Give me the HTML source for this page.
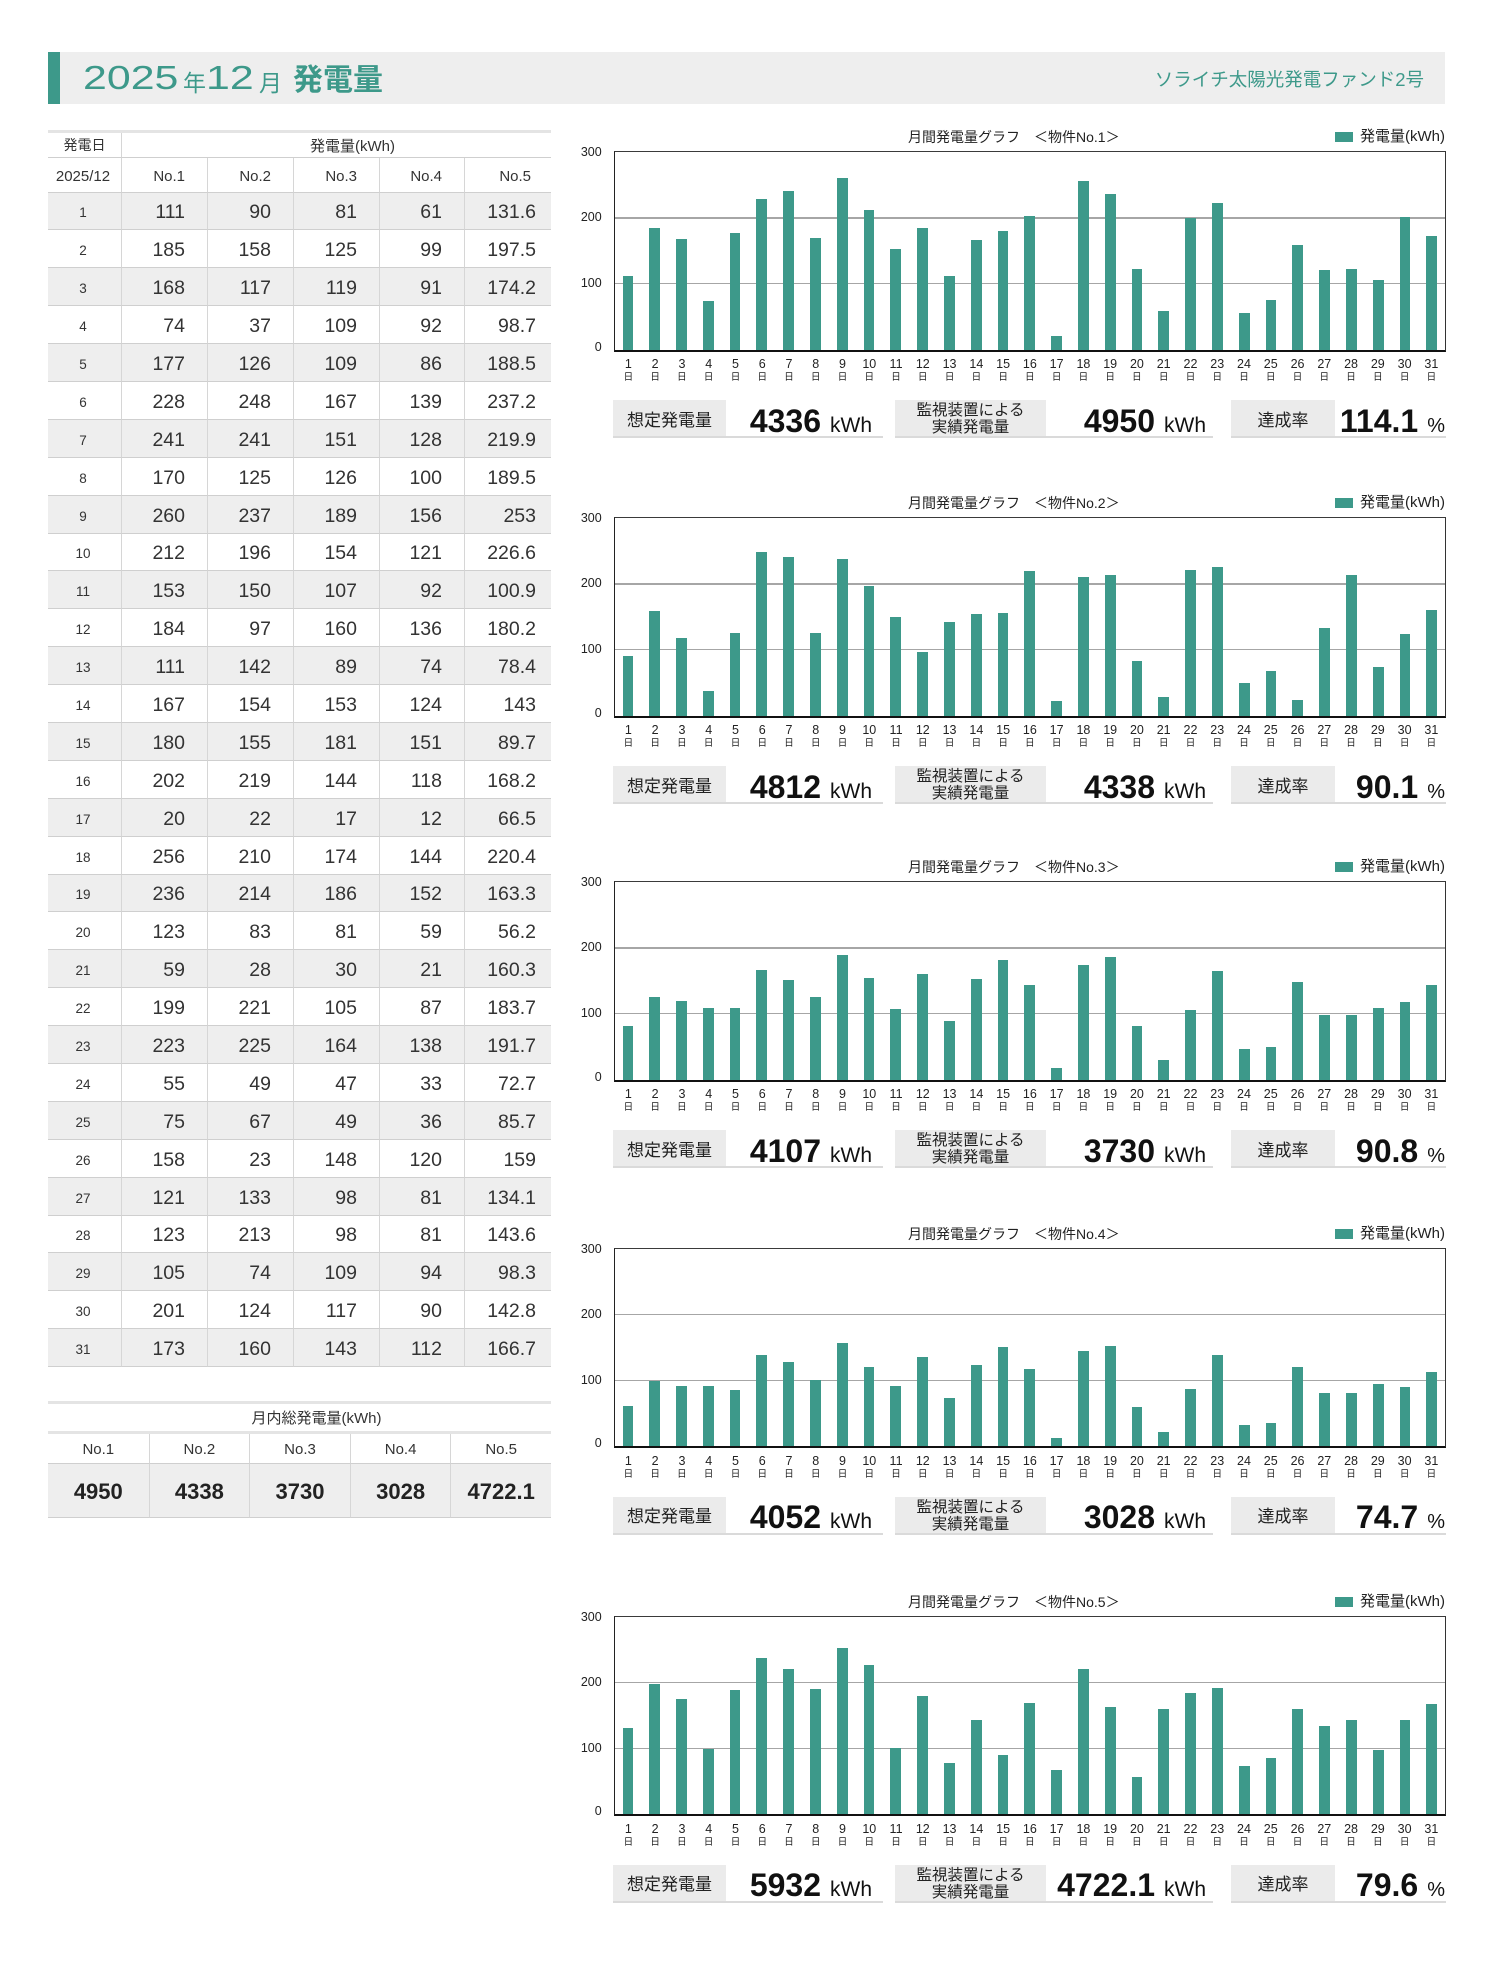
<!DOCTYPE html>
<html><head><meta charset="utf-8">
<style>
*{margin:0;padding:0;box-sizing:border-box}
body{width:1500px;height:1986px;background:#fff;position:relative;overflow:hidden;font-family:"Liberation Sans","Noto Sans CJK JP",sans-serif;color:#222}
.a{position:absolute;white-space:nowrap}
.gr{color:#3d998a}
.tb{left:48px;top:52px;width:1397px;height:52px;background:#eeeeee}
.acc{left:48px;top:52px;width:12px;height:52px;background:#3d998a}
.dg{font-size:33.5px;line-height:33.5px;transform:scaleX(1.28);transform-origin:0 0}
.kj{font-size:23px;line-height:23px}
/* table */
.tbl{position:absolute;left:48px;top:130px;width:503px;display:grid;grid-template-columns:73px 86px 86px 86px 85px 87px;grid-template-rows:25px 34.5px repeat(31,37.9px);border-top:3px solid #e4e4e4}
.tbl>div.hc,.tbl span{display:flex;align-items:center;border-bottom:1.5px solid #cfcfcf;color:#333;white-space:nowrap}
.tbl>.r{display:contents}
.h2{font-size:15px;justify-content:flex-end;padding:3px 22px 0 0;border-left:1px solid #d6d6d6}
.r span{justify-content:flex-end;padding:4px 22px 0 0;font-size:19.5px;border-left:1px solid #d6d6d6}
.r span:first-child{justify-content:center;padding:4px 3px 0 0;font-size:13.5px;border-left:0}
.r span:last-child{padding-right:15px}
.g span{background:#eeeeee}
.sm{position:absolute;left:48px;top:1400.5px;width:503px;display:grid;grid-template-columns:repeat(5,1fr);grid-template-rows:30px 30px 54px;border-top:3px solid #e4e4e4}
.sm div{display:flex;align-items:center;justify-content:center;color:#333;border-bottom:1.5px solid #cfcfcf}
.sm .sh{grid-column:span 5;font-size:15px;padding-left:34px;border-bottom:3px solid #e4e4e4}
.sm .sn{font-size:15px;border-left:1px solid #d6d6d6;padding-top:2px}
.sm .sv{font-size:22px;font-weight:bold;background:#eeeeee;border-left:1px solid #d6d6d6;padding-top:3px;color:#222}
.sm .f{border-left:0}
/* charts */
.ch{position:absolute;left:0;width:1500px;height:0}
.ct{position:absolute;left:908px;top:-22.5px;font-size:14px;line-height:16px;white-space:nowrap}
.lgb{position:absolute;left:1335px;top:-20px;width:18px;height:10px;background:#3d998a}
.lgt{position:absolute;left:1360px;top:-22.5px;font-size:15px;line-height:16px;white-space:nowrap}
.yl{position:absolute;left:561.7px;width:40px;text-align:right;font-size:12.5px;line-height:14px}
.pl{position:absolute;left:613.5px;top:-0.8px;width:832.5px;height:200.6px;border-top:1.3px solid #3a3a3a;border-left:1.5px solid #222;border-right:1.5px solid #333;border-bottom:2px solid #111}
.gl{position:absolute;left:0;right:0;height:1.5px;background:#a6a6a6}
.bars{position:absolute;left:0;right:0;top:0;bottom:0;display:flex;align-items:flex-end}
.bars i{flex:1 1 0;margin:0 8px;height:calc(var(--v) * 0.6593px);background:#3d998a;display:block}
.xl{position:absolute;left:615px;width:829.5px;top:205.5px;display:flex}
.xl i{flex:1 1 0;display:block;text-align:center;font-style:normal;font-size:12.5px;line-height:14px}
.xl b{display:block;font-weight:normal;font-size:9.5px;line-height:12px;margin-top:0.7px}
.lb{position:absolute;top:248.4px;height:36.3px;background:#ebebeb;text-align:center;font-size:17px;line-height:36.3px;padding-top:2.5px;white-space:nowrap}
.lb2{font-size:15.5px;line-height:17.5px;padding-top:1.8px}
.vl{position:absolute;top:248.4px;height:36.3px;text-align:right;font-weight:bold;font-size:32px;line-height:36.3px;padding-top:2.5px;white-space:nowrap;color:#111}
.vl small{font-size:21px;font-weight:normal;margin-left:9px}
.vl em{font-style:normal;font-size:20px;font-weight:normal;margin-left:9px}
.ul{position:absolute;top:284.7px;height:2px;background:#dadada}
</style></head><body>

<div class="a tb"></div>
<div class="a acc"></div>
<div class="a gr dg" style="left:82.7px;top:62.3px">2025</div>
<div class="a gr kj" style="left:183px;top:71.5px">年</div>
<div class="a gr dg" style="left:206px;top:62.3px">12</div>
<div class="a gr kj" style="left:259px;top:71.5px">月</div>
<div class="a gr" style="left:293px;top:66px;font-size:30px;line-height:30px;font-weight:bold">発電量</div>
<div class="a gr" style="left:1024px;width:400px;text-align:right;top:69.8px;font-size:18.5px;line-height:20px">ソライチ太陽光発電ファンド2号</div>

<div class="tbl">
<div class="hc" style="justify-content:center;font-size:14px">発電日</div>
<div class="hc" style="grid-column:span 5;border-left:1px solid #d6d6d6;padding-left:188px;font-size:15px">発電量(kWh)</div>
<div class="hc h2" style="justify-content:center;padding:3px 3px 0 0;border-left:0">2025/12</div>
<div class="hc h2">No.1</div><div class="hc h2">No.2</div><div class="hc h2">No.3</div><div class="hc h2">No.4</div><div class="hc h2" style="padding-right:20px">No.5</div>
<div class="r g"><span>1</span><span>111</span><span>90</span><span>81</span><span>61</span><span>131.6</span></div>
<div class="r"><span>2</span><span>185</span><span>158</span><span>125</span><span>99</span><span>197.5</span></div>
<div class="r g"><span>3</span><span>168</span><span>117</span><span>119</span><span>91</span><span>174.2</span></div>
<div class="r"><span>4</span><span>74</span><span>37</span><span>109</span><span>92</span><span>98.7</span></div>
<div class="r g"><span>5</span><span>177</span><span>126</span><span>109</span><span>86</span><span>188.5</span></div>
<div class="r"><span>6</span><span>228</span><span>248</span><span>167</span><span>139</span><span>237.2</span></div>
<div class="r g"><span>7</span><span>241</span><span>241</span><span>151</span><span>128</span><span>219.9</span></div>
<div class="r"><span>8</span><span>170</span><span>125</span><span>126</span><span>100</span><span>189.5</span></div>
<div class="r g"><span>9</span><span>260</span><span>237</span><span>189</span><span>156</span><span>253</span></div>
<div class="r"><span>10</span><span>212</span><span>196</span><span>154</span><span>121</span><span>226.6</span></div>
<div class="r g"><span>11</span><span>153</span><span>150</span><span>107</span><span>92</span><span>100.9</span></div>
<div class="r"><span>12</span><span>184</span><span>97</span><span>160</span><span>136</span><span>180.2</span></div>
<div class="r g"><span>13</span><span>111</span><span>142</span><span>89</span><span>74</span><span>78.4</span></div>
<div class="r"><span>14</span><span>167</span><span>154</span><span>153</span><span>124</span><span>143</span></div>
<div class="r g"><span>15</span><span>180</span><span>155</span><span>181</span><span>151</span><span>89.7</span></div>
<div class="r"><span>16</span><span>202</span><span>219</span><span>144</span><span>118</span><span>168.2</span></div>
<div class="r g"><span>17</span><span>20</span><span>22</span><span>17</span><span>12</span><span>66.5</span></div>
<div class="r"><span>18</span><span>256</span><span>210</span><span>174</span><span>144</span><span>220.4</span></div>
<div class="r g"><span>19</span><span>236</span><span>214</span><span>186</span><span>152</span><span>163.3</span></div>
<div class="r"><span>20</span><span>123</span><span>83</span><span>81</span><span>59</span><span>56.2</span></div>
<div class="r g"><span>21</span><span>59</span><span>28</span><span>30</span><span>21</span><span>160.3</span></div>
<div class="r"><span>22</span><span>199</span><span>221</span><span>105</span><span>87</span><span>183.7</span></div>
<div class="r g"><span>23</span><span>223</span><span>225</span><span>164</span><span>138</span><span>191.7</span></div>
<div class="r"><span>24</span><span>55</span><span>49</span><span>47</span><span>33</span><span>72.7</span></div>
<div class="r g"><span>25</span><span>75</span><span>67</span><span>49</span><span>36</span><span>85.7</span></div>
<div class="r"><span>26</span><span>158</span><span>23</span><span>148</span><span>120</span><span>159</span></div>
<div class="r g"><span>27</span><span>121</span><span>133</span><span>98</span><span>81</span><span>134.1</span></div>
<div class="r"><span>28</span><span>123</span><span>213</span><span>98</span><span>81</span><span>143.6</span></div>
<div class="r g"><span>29</span><span>105</span><span>74</span><span>109</span><span>94</span><span>98.3</span></div>
<div class="r"><span>30</span><span>201</span><span>124</span><span>117</span><span>90</span><span>142.8</span></div>
<div class="r g"><span>31</span><span>173</span><span>160</span><span>143</span><span>112</span><span>166.7</span></div>
</div>

<div class="sm">
<div class="sh">月内総発電量(kWh)</div>
<div class="sn f">No.1</div><div class="sn">No.2</div><div class="sn">No.3</div><div class="sn">No.4</div><div class="sn">No.5</div>
<div class="sv f">4950</div><div class="sv">4338</div><div class="sv">3730</div><div class="sv">3028</div><div class="sv">4722.1</div>
</div>

<!-- Chart 1 -->
<div class="ch" style="top:151.8px">
<div class="ct">月間発電量グラフ　＜物件No.1＞</div>
<div class="lgb"></div><div class="lgt">発電量(kWh)</div>
<div class="yl" style="top:-6.5px">300</div><div class="yl" style="top:58.3px">200</div><div class="yl" style="top:124.5px">100</div><div class="yl" style="top:187.8px">0</div>
<div class="pl"><div class="gl" style="bottom:131.1px"></div><div class="gl" style="bottom:65.2px"></div>
<div class="bars"><i style="--v:111"></i><i style="--v:185"></i><i style="--v:168"></i><i style="--v:74"></i><i style="--v:177"></i><i style="--v:228"></i><i style="--v:241"></i><i style="--v:170"></i><i style="--v:260"></i><i style="--v:212"></i><i style="--v:153"></i><i style="--v:184"></i><i style="--v:111"></i><i style="--v:167"></i><i style="--v:180"></i><i style="--v:202"></i><i style="--v:20"></i><i style="--v:256"></i><i style="--v:236"></i><i style="--v:123"></i><i style="--v:59"></i><i style="--v:199"></i><i style="--v:223"></i><i style="--v:55"></i><i style="--v:75"></i><i style="--v:158"></i><i style="--v:121"></i><i style="--v:123"></i><i style="--v:105"></i><i style="--v:201"></i><i style="--v:173"></i></div></div>
<div class="xl"><i>1<b>日</b></i><i>2<b>日</b></i><i>3<b>日</b></i><i>4<b>日</b></i><i>5<b>日</b></i><i>6<b>日</b></i><i>7<b>日</b></i><i>8<b>日</b></i><i>9<b>日</b></i><i>10<b>日</b></i><i>11<b>日</b></i><i>12<b>日</b></i><i>13<b>日</b></i><i>14<b>日</b></i><i>15<b>日</b></i><i>16<b>日</b></i><i>17<b>日</b></i><i>18<b>日</b></i><i>19<b>日</b></i><i>20<b>日</b></i><i>21<b>日</b></i><i>22<b>日</b></i><i>23<b>日</b></i><i>24<b>日</b></i><i>25<b>日</b></i><i>26<b>日</b></i><i>27<b>日</b></i><i>28<b>日</b></i><i>29<b>日</b></i><i>30<b>日</b></i><i>31<b>日</b></i></div>
<div class="lb" style="left:613px;width:113px">想定発電量</div>
<div class="vl" style="left:726px;width:157px;padding-right:11px">4336<small>kWh</small></div>
<div class="ul" style="left:613px;width:270px"></div>
<div class="lb lb2" style="left:895px;width:151px">監視装置による<br>実績発電量</div>
<div class="vl" style="left:1046px;width:167px;padding-right:7px">4950<small>kWh</small></div>
<div class="ul" style="left:895px;width:318px"></div>
<div class="lb" style="left:1231px;width:104px">達成率</div>
<div class="vl" style="left:1335px;width:111px;padding-right:1px">114.1<em>%</em></div>
<div class="ul" style="left:1231px;width:215px"></div>
</div>

<!-- Chart 2 -->
<div class="ch" style="top:517.8px">
<div class="ct">月間発電量グラフ　＜物件No.2＞</div>
<div class="lgb"></div><div class="lgt">発電量(kWh)</div>
<div class="yl" style="top:-6.5px">300</div><div class="yl" style="top:58.3px">200</div><div class="yl" style="top:124.5px">100</div><div class="yl" style="top:187.8px">0</div>
<div class="pl"><div class="gl" style="bottom:131.1px"></div><div class="gl" style="bottom:65.2px"></div>
<div class="bars"><i style="--v:90"></i><i style="--v:158"></i><i style="--v:117"></i><i style="--v:37"></i><i style="--v:126"></i><i style="--v:248"></i><i style="--v:241"></i><i style="--v:125"></i><i style="--v:237"></i><i style="--v:196"></i><i style="--v:150"></i><i style="--v:97"></i><i style="--v:142"></i><i style="--v:154"></i><i style="--v:155"></i><i style="--v:219"></i><i style="--v:22"></i><i style="--v:210"></i><i style="--v:214"></i><i style="--v:83"></i><i style="--v:28"></i><i style="--v:221"></i><i style="--v:225"></i><i style="--v:49"></i><i style="--v:67"></i><i style="--v:23"></i><i style="--v:133"></i><i style="--v:213"></i><i style="--v:74"></i><i style="--v:124"></i><i style="--v:160"></i></div></div>
<div class="xl"><i>1<b>日</b></i><i>2<b>日</b></i><i>3<b>日</b></i><i>4<b>日</b></i><i>5<b>日</b></i><i>6<b>日</b></i><i>7<b>日</b></i><i>8<b>日</b></i><i>9<b>日</b></i><i>10<b>日</b></i><i>11<b>日</b></i><i>12<b>日</b></i><i>13<b>日</b></i><i>14<b>日</b></i><i>15<b>日</b></i><i>16<b>日</b></i><i>17<b>日</b></i><i>18<b>日</b></i><i>19<b>日</b></i><i>20<b>日</b></i><i>21<b>日</b></i><i>22<b>日</b></i><i>23<b>日</b></i><i>24<b>日</b></i><i>25<b>日</b></i><i>26<b>日</b></i><i>27<b>日</b></i><i>28<b>日</b></i><i>29<b>日</b></i><i>30<b>日</b></i><i>31<b>日</b></i></div>
<div class="lb" style="left:613px;width:113px">想定発電量</div>
<div class="vl" style="left:726px;width:157px;padding-right:11px">4812<small>kWh</small></div>
<div class="ul" style="left:613px;width:270px"></div>
<div class="lb lb2" style="left:895px;width:151px">監視装置による<br>実績発電量</div>
<div class="vl" style="left:1046px;width:167px;padding-right:7px">4338<small>kWh</small></div>
<div class="ul" style="left:895px;width:318px"></div>
<div class="lb" style="left:1231px;width:104px">達成率</div>
<div class="vl" style="left:1335px;width:111px;padding-right:1px">90.1<em>%</em></div>
<div class="ul" style="left:1231px;width:215px"></div>
</div>

<!-- Chart 3 -->
<div class="ch" style="top:881.8px">
<div class="ct">月間発電量グラフ　＜物件No.3＞</div>
<div class="lgb"></div><div class="lgt">発電量(kWh)</div>
<div class="yl" style="top:-6.5px">300</div><div class="yl" style="top:58.3px">200</div><div class="yl" style="top:124.5px">100</div><div class="yl" style="top:187.8px">0</div>
<div class="pl"><div class="gl" style="bottom:131.1px"></div><div class="gl" style="bottom:65.2px"></div>
<div class="bars"><i style="--v:81"></i><i style="--v:125"></i><i style="--v:119"></i><i style="--v:109"></i><i style="--v:109"></i><i style="--v:167"></i><i style="--v:151"></i><i style="--v:126"></i><i style="--v:189"></i><i style="--v:154"></i><i style="--v:107"></i><i style="--v:160"></i><i style="--v:89"></i><i style="--v:153"></i><i style="--v:181"></i><i style="--v:144"></i><i style="--v:17"></i><i style="--v:174"></i><i style="--v:186"></i><i style="--v:81"></i><i style="--v:30"></i><i style="--v:105"></i><i style="--v:164"></i><i style="--v:47"></i><i style="--v:49"></i><i style="--v:148"></i><i style="--v:98"></i><i style="--v:98"></i><i style="--v:109"></i><i style="--v:117"></i><i style="--v:143"></i></div></div>
<div class="xl"><i>1<b>日</b></i><i>2<b>日</b></i><i>3<b>日</b></i><i>4<b>日</b></i><i>5<b>日</b></i><i>6<b>日</b></i><i>7<b>日</b></i><i>8<b>日</b></i><i>9<b>日</b></i><i>10<b>日</b></i><i>11<b>日</b></i><i>12<b>日</b></i><i>13<b>日</b></i><i>14<b>日</b></i><i>15<b>日</b></i><i>16<b>日</b></i><i>17<b>日</b></i><i>18<b>日</b></i><i>19<b>日</b></i><i>20<b>日</b></i><i>21<b>日</b></i><i>22<b>日</b></i><i>23<b>日</b></i><i>24<b>日</b></i><i>25<b>日</b></i><i>26<b>日</b></i><i>27<b>日</b></i><i>28<b>日</b></i><i>29<b>日</b></i><i>30<b>日</b></i><i>31<b>日</b></i></div>
<div class="lb" style="left:613px;width:113px">想定発電量</div>
<div class="vl" style="left:726px;width:157px;padding-right:11px">4107<small>kWh</small></div>
<div class="ul" style="left:613px;width:270px"></div>
<div class="lb lb2" style="left:895px;width:151px">監視装置による<br>実績発電量</div>
<div class="vl" style="left:1046px;width:167px;padding-right:7px">3730<small>kWh</small></div>
<div class="ul" style="left:895px;width:318px"></div>
<div class="lb" style="left:1231px;width:104px">達成率</div>
<div class="vl" style="left:1335px;width:111px;padding-right:1px">90.8<em>%</em></div>
<div class="ul" style="left:1231px;width:215px"></div>
</div>

<!-- Chart 4 -->
<div class="ch" style="top:1248.5px">
<div class="ct">月間発電量グラフ　＜物件No.4＞</div>
<div class="lgb"></div><div class="lgt">発電量(kWh)</div>
<div class="yl" style="top:-6.5px">300</div><div class="yl" style="top:58.3px">200</div><div class="yl" style="top:124.5px">100</div><div class="yl" style="top:187.8px">0</div>
<div class="pl"><div class="gl" style="bottom:131.1px"></div><div class="gl" style="bottom:65.2px"></div>
<div class="bars"><i style="--v:61"></i><i style="--v:99"></i><i style="--v:91"></i><i style="--v:92"></i><i style="--v:86"></i><i style="--v:139"></i><i style="--v:128"></i><i style="--v:100"></i><i style="--v:156"></i><i style="--v:121"></i><i style="--v:92"></i><i style="--v:136"></i><i style="--v:74"></i><i style="--v:124"></i><i style="--v:151"></i><i style="--v:118"></i><i style="--v:12"></i><i style="--v:144"></i><i style="--v:152"></i><i style="--v:59"></i><i style="--v:21"></i><i style="--v:87"></i><i style="--v:138"></i><i style="--v:33"></i><i style="--v:36"></i><i style="--v:120"></i><i style="--v:81"></i><i style="--v:81"></i><i style="--v:94"></i><i style="--v:90"></i><i style="--v:112"></i></div></div>
<div class="xl"><i>1<b>日</b></i><i>2<b>日</b></i><i>3<b>日</b></i><i>4<b>日</b></i><i>5<b>日</b></i><i>6<b>日</b></i><i>7<b>日</b></i><i>8<b>日</b></i><i>9<b>日</b></i><i>10<b>日</b></i><i>11<b>日</b></i><i>12<b>日</b></i><i>13<b>日</b></i><i>14<b>日</b></i><i>15<b>日</b></i><i>16<b>日</b></i><i>17<b>日</b></i><i>18<b>日</b></i><i>19<b>日</b></i><i>20<b>日</b></i><i>21<b>日</b></i><i>22<b>日</b></i><i>23<b>日</b></i><i>24<b>日</b></i><i>25<b>日</b></i><i>26<b>日</b></i><i>27<b>日</b></i><i>28<b>日</b></i><i>29<b>日</b></i><i>30<b>日</b></i><i>31<b>日</b></i></div>
<div class="lb" style="left:613px;width:113px">想定発電量</div>
<div class="vl" style="left:726px;width:157px;padding-right:11px">4052<small>kWh</small></div>
<div class="ul" style="left:613px;width:270px"></div>
<div class="lb lb2" style="left:895px;width:151px">監視装置による<br>実績発電量</div>
<div class="vl" style="left:1046px;width:167px;padding-right:7px">3028<small>kWh</small></div>
<div class="ul" style="left:895px;width:318px"></div>
<div class="lb" style="left:1231px;width:104px">達成率</div>
<div class="vl" style="left:1335px;width:111px;padding-right:1px">74.7<em>%</em></div>
<div class="ul" style="left:1231px;width:215px"></div>
</div>

<!-- Chart 5 -->
<div class="ch" style="top:1616.5px">
<div class="ct">月間発電量グラフ　＜物件No.5＞</div>
<div class="lgb"></div><div class="lgt">発電量(kWh)</div>
<div class="yl" style="top:-6.5px">300</div><div class="yl" style="top:58.3px">200</div><div class="yl" style="top:124.5px">100</div><div class="yl" style="top:187.8px">0</div>
<div class="pl"><div class="gl" style="bottom:131.1px"></div><div class="gl" style="bottom:65.2px"></div>
<div class="bars"><i style="--v:131.6"></i><i style="--v:197.5"></i><i style="--v:174.2"></i><i style="--v:98.7"></i><i style="--v:188.5"></i><i style="--v:237.2"></i><i style="--v:219.9"></i><i style="--v:189.5"></i><i style="--v:253"></i><i style="--v:226.6"></i><i style="--v:100.9"></i><i style="--v:180.2"></i><i style="--v:78.4"></i><i style="--v:143"></i><i style="--v:89.7"></i><i style="--v:168.2"></i><i style="--v:66.5"></i><i style="--v:220.4"></i><i style="--v:163.3"></i><i style="--v:56.2"></i><i style="--v:160.3"></i><i style="--v:183.7"></i><i style="--v:191.7"></i><i style="--v:72.7"></i><i style="--v:85.7"></i><i style="--v:159"></i><i style="--v:134.1"></i><i style="--v:143.6"></i><i style="--v:98.3"></i><i style="--v:142.8"></i><i style="--v:166.7"></i></div></div>
<div class="xl"><i>1<b>日</b></i><i>2<b>日</b></i><i>3<b>日</b></i><i>4<b>日</b></i><i>5<b>日</b></i><i>6<b>日</b></i><i>7<b>日</b></i><i>8<b>日</b></i><i>9<b>日</b></i><i>10<b>日</b></i><i>11<b>日</b></i><i>12<b>日</b></i><i>13<b>日</b></i><i>14<b>日</b></i><i>15<b>日</b></i><i>16<b>日</b></i><i>17<b>日</b></i><i>18<b>日</b></i><i>19<b>日</b></i><i>20<b>日</b></i><i>21<b>日</b></i><i>22<b>日</b></i><i>23<b>日</b></i><i>24<b>日</b></i><i>25<b>日</b></i><i>26<b>日</b></i><i>27<b>日</b></i><i>28<b>日</b></i><i>29<b>日</b></i><i>30<b>日</b></i><i>31<b>日</b></i></div>
<div class="lb" style="left:613px;width:113px">想定発電量</div>
<div class="vl" style="left:726px;width:157px;padding-right:11px">5932<small>kWh</small></div>
<div class="ul" style="left:613px;width:270px"></div>
<div class="lb lb2" style="left:895px;width:151px">監視装置による<br>実績発電量</div>
<div class="vl" style="left:1046px;width:167px;padding-right:7px">4722.1<small>kWh</small></div>
<div class="ul" style="left:895px;width:318px"></div>
<div class="lb" style="left:1231px;width:104px">達成率</div>
<div class="vl" style="left:1335px;width:111px;padding-right:1px">79.6<em>%</em></div>
<div class="ul" style="left:1231px;width:215px"></div>
</div>

</body></html>
